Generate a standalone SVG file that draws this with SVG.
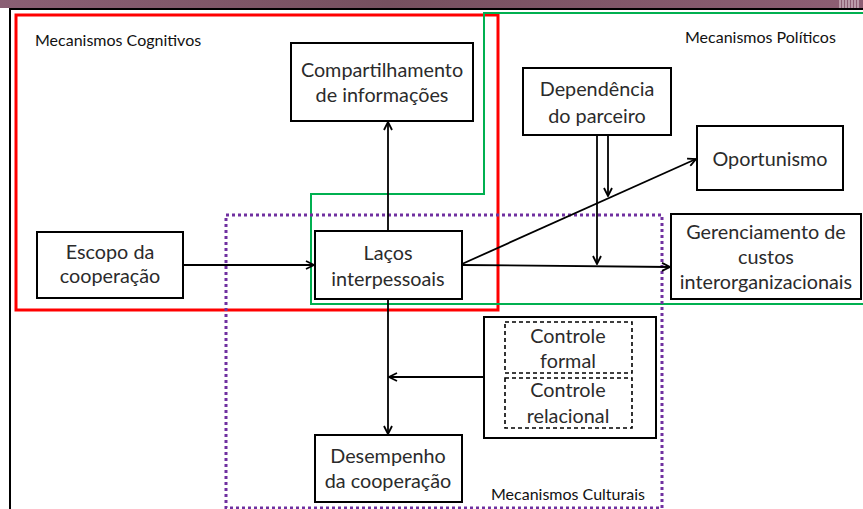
<svg xmlns="http://www.w3.org/2000/svg" width="863" height="509" viewBox="0 0 863 509">
<defs>
<linearGradient id="band" x1="0" y1="0" x2="1" y2="0">
<stop offset="0" stop-color="#8a5f74"/>
<stop offset="0.45" stop-color="#76505f"/>
<stop offset="1" stop-color="#8d5e74"/>
</linearGradient>
<marker id="arr" viewBox="0 0 10 10" refX="9" refY="5" markerWidth="10" markerHeight="10" markerUnits="userSpaceOnUse" orient="auto">
<path d="M1,1 L9,5 L1,9" fill="none" stroke="#000" stroke-width="1.8"/>
</marker>
<style>
.node{fill:#fff;stroke:#000;stroke-width:2}
.dash{fill:none;stroke:#000;stroke-width:1.6;stroke-dasharray:4 3}
.t{font-family:Lato,"Liberation Sans",sans-serif;font-size:19.8px;fill:#2b2b2b;text-anchor:middle}
.lab{font-family:Lato,"Liberation Sans",sans-serif;font-size:16px;fill:#111}
.c{fill:none;stroke:#000;stroke-width:1.8}
</style>
</defs>
<rect width="863" height="509" fill="#fff"/>
<rect x="0" y="0" width="863" height="8" fill="url(#band)"/>
<g stroke="#e8d8e0" stroke-width="1">
<line x1="840" y1="0" x2="840" y2="8"/><line x1="843" y1="0" x2="843" y2="8"/><line x1="846" y1="0" x2="846" y2="8"/><line x1="849" y1="0" x2="849" y2="8"/><line x1="852" y1="0" x2="852" y2="8"/><line x1="855" y1="0" x2="855" y2="8"/><line x1="858" y1="0" x2="858" y2="8"/>
</g>
<path d="M10,509 V9 H863" fill="none" stroke="#000" stroke-width="2"/>

<g id="groups">
<rect id="cognitivos" x="16" y="15" width="482" height="295" fill="none" stroke="#ff0000" stroke-width="3"/>
<path id="politicos" d="M863,13 H484 V194 H311 V304 H863" fill="none" stroke="#00b050" stroke-width="2"/>
<rect id="culturais" x="226" y="215" width="436" height="293" fill="none" stroke="#7030a0" stroke-width="3" stroke-dasharray="3 3"/>
</g>

<g id="labels">
<text class="lab" x="35" y="46">Mecanismos Cognitivos</text>
<text class="lab" x="685" y="43">Mecanismos Políticos</text>
<text class="lab" x="491" y="500">Mecanismos Culturais</text>
</g>

<g id="connectors">
<line class="c" x1="183" y1="265" x2="314" y2="265" marker-end="url(#arr)"/>
<line class="c" x1="388" y1="231" x2="388" y2="122" marker-end="url(#arr)"/>
<line class="c" x1="388" y1="299" x2="388" y2="434" marker-end="url(#arr)"/>
<line class="c" x1="484" y1="377" x2="389" y2="377" marker-end="url(#arr)"/>
<line class="c" x1="462" y1="265" x2="670" y2="267" marker-end="url(#arr)"/>
<line class="c" x1="462" y1="264" x2="696" y2="159" marker-end="url(#arr)"/>
<line class="c" x1="597" y1="135" x2="597" y2="264" marker-end="url(#arr)"/>
<line class="c" x1="608" y1="135" x2="608" y2="196" marker-end="url(#arr)"/>
</g>

<g id="compartilhamento">
<rect class="node" x="291" y="43" width="182" height="78"/>
<text class="t" x="382" y="77">Compartilhamento</text>
<text class="t" x="382" y="102">de informações</text>
</g>
<g id="dependencia">
<rect class="node" x="523" y="68" width="148" height="67"/>
<text class="t" x="597" y="96">Dependência</text>
<text class="t" x="597" y="123">do parceiro</text>
</g>
<g id="oportunismo">
<rect class="node" x="697" y="126" width="146" height="64"/>
<text class="t" x="770" y="166">Oportunismo</text>
</g>
<g id="gerenciamento">
<rect class="node" x="671" y="214" width="190" height="85"/>
<text class="t" x="766" y="239">Gerenciamento de</text>
<text class="t" x="766" y="264">custos</text>
<text class="t" x="766" y="289">interorganizacionais</text>
</g>
<g id="escopo">
<rect class="node" x="37" y="232" width="146" height="66"/>
<text class="t" x="110" y="259">Escopo da</text>
<text class="t" x="110" y="283">cooperação</text>
</g>
<g id="lacos">
<rect class="node" x="315" y="231" width="147" height="68"/>
<text class="t" x="388" y="260">Laços</text>
<text class="t" x="388" y="286">interpessoais</text>
</g>
<g id="controle">
<rect class="node" x="484" y="317" width="172" height="121"/>
<rect class="dash" x="505" y="322" width="127" height="51"/>
<text class="t" x="568" y="343">Controle</text>
<text class="t" x="568" y="368">formal</text>
<rect class="dash" x="505" y="378" width="127" height="50"/>
<text class="t" x="568" y="397">Controle</text>
<text class="t" x="568" y="423">relacional</text>
</g>
<g id="desempenho">
<rect class="node" x="315" y="435" width="147" height="67"/>
<text class="t" x="388" y="463">Desempenho</text>
<text class="t" x="388" y="488">da cooperação</text>
</g>
</svg>
